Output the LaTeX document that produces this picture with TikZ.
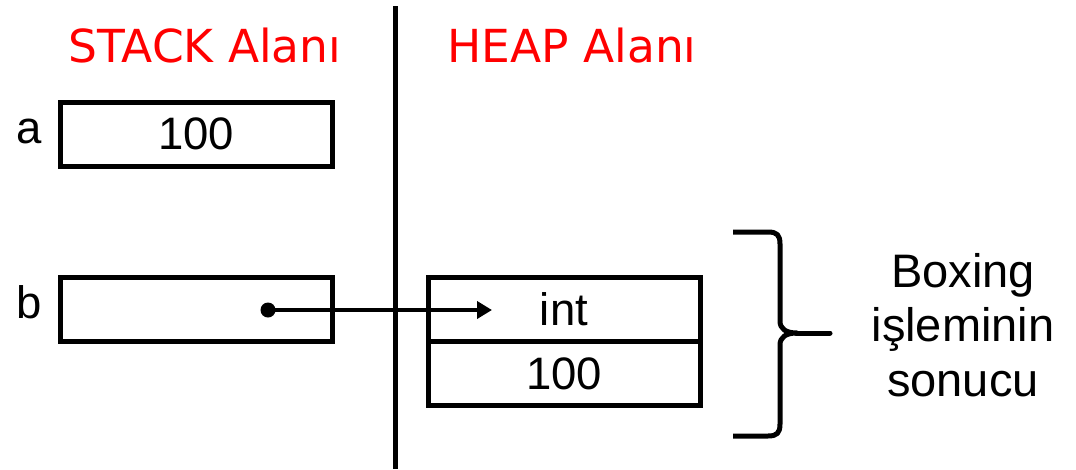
\documentclass[tikz,border=0pt]{standalone}
\usepackage{fontspec}
\setmainfont{Liberation Sans}
\newfontfamily\headfont{DejaVu Sans}
\usetikzlibrary{arrows.meta}
\definecolor{headred}{RGB}{255,0,0}
\tikzset{
  cell/.style={draw=black, line width=5pt, inner sep=0pt, minimum width=272pt, minimum height=64pt, font=\fontsize{45.5}{54}\selectfont},
  varlabel/.style={anchor=base, inner sep=0pt, font=\fontsize{45.5}{54}\selectfont},
  head/.style={anchor=base, inner sep=0pt, text=headred, font=\headfont\fontsize{45.5}{54}\selectfont},
  thick line/.style={line width=5pt},
}
\begin{document}
\begin{tikzpicture}[x=1pt,y=-1pt]
\useasboundingbox (0,0) rectangle (1076,469);
% divider
\coordinate (top) at (395.5,6);
\coordinate (bot) at (395.5,469);
\draw[line width=5.5pt] (top) -- (bot);
% headings
\node[head] (hstack) at (205,62) {STACK Alanı};
\node[head] (hheap) at (572,62) {HEAP Alanı};
% stack cells
\node[cell] (a) at (196,134) {100};
\node[varlabel] (la) at (29,143) {a};
\node[cell] (b) at (196,309.5) {};
\node[varlabel] (lb) at (29,318) {b};
% heap cells
\node[cell] (hint) at (564,309.5) {int};
\node[cell] (hval) at (564,373.5) {100};
% reference arrow
\coordinate (p) at (268,310);
\coordinate (q) at (492,310);
\fill (p) circle (7.5);
\draw[line width=4pt, -{Triangle[length=15pt,width=17pt]}] (p) -- (q);
% brace
\draw[thick line, line cap=butt, line join=round]
  (733,232) -- (768,232) .. controls (777,232) and (780,235) .. (780,244)
  -- (780,321) .. controls (780,329) and (786,333) .. (797,333)
  .. controls (786,333) and (780,337) .. (780,345)
  -- (780,424) .. controls (780,433) and (777,436) .. (768,436) -- (733,436);
\coordinate (tip) at (796,333);
\coordinate (tipend) at (830,333);
\draw[thick line, line cap=round] (tip) -- (tipend);
\node[align=center, inner sep=0pt, font=\fontsize{47}{54.5}\selectfont] (res) at (963,325) {Boxing\\işleminin\\sonucu};
\end{tikzpicture}
\end{document}
